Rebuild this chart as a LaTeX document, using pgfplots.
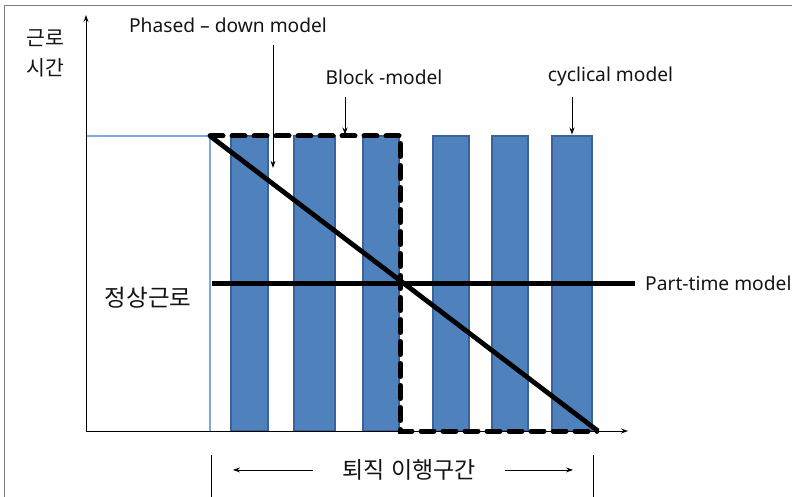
\documentclass[border=0pt]{standalone}
\usepackage{pgfplots}
\pgfplotsset{compat=1.18}
\usepackage{fontspec}
\setmainfont{Noto Sans}
\newfontfamily\kr{Noto Sans CJK KR}
\usetikzlibrary{arrows.meta}
\definecolor{barfill}{HTML}{4F81BD}
\definecolor{baredge}{HTML}{3A639B}
\definecolor{lblue}{HTML}{7FA7D9}
\definecolor{framegray}{HTML}{7F7F7F}
\definecolor{txt}{HTML}{141414}
\begin{document}
\begin{tikzpicture}
\begin{axis}[
  width=792pt, height=497pt, scale only axis,
  xmin=0, xmax=792, ymin=-22.37, ymax=146.10,
  axis lines=none, clip=false,
  every axis plot/.append style={line join=miter},
]
% frame
\addplot[framegray, line width=1pt] coordinates {(4,-22.37) (4,144.4) (792,144.4)};
% bars: working hours (100 = full time)
\addplot[fill=barfill, draw=baredge, line width=1.3pt] coordinates {(231,0) (268,0) (268,100) (231,100)} -- cycle;
\addplot[fill=barfill, draw=baredge, line width=1.3pt] coordinates {(294,0) (335,0) (335,100) (294,100)} -- cycle;
\addplot[fill=barfill, draw=baredge, line width=1.3pt] coordinates {(363,0) (399,0) (399,100) (363,100)} -- cycle;
\addplot[fill=barfill, draw=baredge, line width=1.3pt] coordinates {(433,0) (469,0) (469,100) (433,100)} -- cycle;
\addplot[fill=barfill, draw=baredge, line width=1.3pt] coordinates {(492,0) (528,0) (528,100) (492,100)} -- cycle;
\addplot[fill=barfill, draw=baredge, line width=1.3pt] coordinates {(552,0) (592,0) (592,100) (552,100)} -- cycle;
% normal work
\addplot[lblue, line width=1.2pt] coordinates {(86,100) (210,100) (210,0)};
% axes
\addplot[black, line width=1pt, -{Stealth[length=7pt,width=5pt]}] coordinates {(86,0) (86,141)};
\addplot[black, line width=1pt, -{Stealth[length=7pt,width=5pt]}] coordinates {(86,0) (628,0)};
% block model
\addplot[black, line width=5pt, line cap=round, dash pattern=on 13pt off 9pt] coordinates {(210,100) (400.5,100) (400.5,0) (597,0)};
% phased-down model
\addplot[black, line width=4.8pt] coordinates {(210,100) (598,0)};
% part-time model
\addplot[black, line width=5.3pt] coordinates {(212,50) (635,50)};
% annotation arrows
\addplot[black, line width=0.8pt, -{Stealth[length=7pt,width=5pt]}] coordinates {(273,130.8) (273,89.2)};
\addplot[black, line width=0.8pt, -{Stealth[length=7pt,width=5pt]}] coordinates {(345,113.2) (345,100.5)};
\addplot[black, line width=0.8pt, -{Stealth[length=7pt,width=5pt]}] coordinates {(572,113.2) (572,100.5)};
\addplot[black, line width=0.8pt, -{Stealth[length=7pt,width=5pt]}] coordinates {(313,-13.2) (233,-13.2)};
\addplot[black, line width=0.8pt, -{Stealth[length=7pt,width=5pt]}] coordinates {(505,-13.2) (573,-13.2)};
\addplot[black, line width=0.8pt] coordinates {(211,-8.1) (211,-22.37)};
\addplot[black, line width=0.8pt] coordinates {(593,-8.1) (593,-22.37)};
% texts
\node[font=\kr\fontsize{20.5}{22}\selectfont, text=txt] at (axis cs:45,133.2) {근로};
\node[font=\kr\fontsize{20.5}{22}\selectfont, text=txt] at (axis cs:45,123.1) {시간};
\node[font=\fontsize{19.2}{22}\selectfont, text=txt] at (axis cs:228,137.6) {Phased – down model};
\node[font=\fontsize{19.2}{22}\selectfont, text=txt] at (axis cs:384,120) {Block -model};
\node[font=\fontsize{19.2}{22}\selectfont, text=txt] at (axis cs:610.5,120) {cyclical model};
\node[anchor=west, inner sep=0pt, font=\fontsize{19.2}{22}\selectfont, text=txt] at (axis cs:645,50.2) {Part-time model};
\node[font=\kr\fontsize{23.5}{25}\selectfont, text=txt] at (axis cs:148,45.1) {정상근로};
\node[font=\kr\fontsize{23}{25}\selectfont, text=txt] at (axis cs:409,-13.2) {퇴직\hspace{0.3em}이행구간};
\end{axis}
\pgfresetboundingbox
\path[use as bounding box] (current axis.south west) rectangle (current axis.north east);
\end{tikzpicture}
\end{document}
